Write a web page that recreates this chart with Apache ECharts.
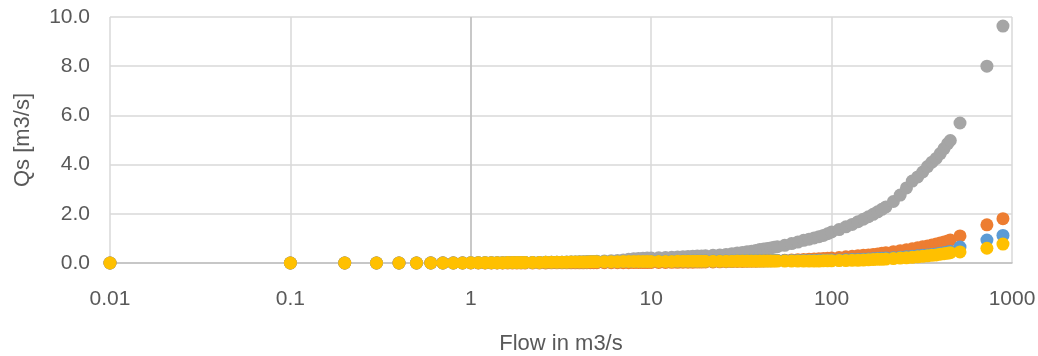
<!DOCTYPE html>
<html>
<head>
<meta charset="utf-8">
<script src="https://cdn.jsdelivr.net/npm/echarts@6/dist/echarts.min.js"></script>
<style>
html,body{margin:0;padding:0;background:#fff;}
#chart{width:1038px;height:356px;}
</style>
</head>
<body>
<div id="chart"></div>
<script>
// Flow values (m3/s)
const flows = [
  0.01,0.1,0.2,0.3,0.4,0.5,0.6,0.7,0.8,0.9,1.0,
  1.1,1.2,1.3,1.4,1.5,1.6,1.7,1.8,1.9,2.0,
  2.2,2.4,2.6,2.8,3.0,3.2,3.4,3.6,3.8,4.0,4.2,4.4,4.6,4.8,5.0,
  5.5,6,6.5,7,7.5,8,8.5,9,9.5,10,
  11,12,13,14,15,16,17,18,19,20,
  22,24,26,28,30,32,34,36,38,40,42,44,46,48,50,
  55,60,65,70,75,80,85,90,95,100,
  110,120,130,140,150,160,170,180,190,200,
  220,240,260,280,300,320,340,360,380,400,420,
  440,455,515,726,891
];
const qsGray = [
  0,0.001,0.002,0.003,0.004,0.005,0.006,0.007,0.008,0.009,0.01,
  0.011,0.012,0.013,0.014,0.015,0.016,0.017,0.018,0.019,0.02,
  0.022,0.024,0.026,0.028,0.03,0.033,0.036,0.04,0.044,0.048,0.052,0.056,0.06,0.065,0.07,
  0.08,0.09,0.1,0.12,0.15,0.17,0.18,0.19,0.2,0.2,
  0.21,0.22,0.23,0.24,0.25,0.26,0.27,0.28,0.28,0.29,
  0.31,0.33,0.35,0.38,0.41,0.43,0.46,0.48,0.51,0.55,0.57,0.59,0.61,0.64,0.66,
  0.72,0.79,0.85,0.92,0.97,1.02,1.07,1.12,1.19,1.26,
  1.36,1.47,1.57,1.68,1.78,1.88,1.98,2.08,2.18,2.28,
  2.5,2.76,3.05,3.33,3.5,3.7,3.92,4.1,4.25,4.45,4.65,
  4.85,4.98,5.69,8.0,9.63
];
const qsOrange = [
  0,0,0,0.001,0.001,0.001,0.001,0.001,0.002,0.002,0.002,
  0.002,0.002,0.003,0.003,0.003,0.003,0.003,0.004,0.004,0.004,
  0.004,0.005,0.005,0.006,0.006,0.006,0.007,0.007,0.008,0.008,0.008,0.009,0.009,0.01,0.01,
  0.011,0.012,0.013,0.014,0.015,0.016,0.017,0.018,0.019,0.02,
  0.022,0.024,0.026,0.028,0.03,0.032,0.034,0.036,0.038,0.04,
  0.044,0.048,0.052,0.056,0.06,0.064,0.068,0.072,0.076,0.08,0.084,0.088,0.092,0.096,0.1,
  0.11,0.12,0.13,0.14,0.15,0.16,0.17,0.18,0.19,0.2,
  0.22,0.25,0.27,0.29,0.31,0.33,0.35,0.37,0.4,0.42,
  0.46,0.5,0.54,0.58,0.62,0.66,0.69,0.73,0.77,0.81,0.85,
  0.89,0.93,1.1,1.55,1.8
];
const qsBlue = [
  0,0,0,0,0,0,0,0,0,0,0.01,
  0.01,0.01,0.01,0.01,0.01,0.02,0.02,0.02,0.02,0.02,
  0.02,0.02,0.03,0.03,0.03,0.03,0.03,0.04,0.04,0.04,0.04,0.04,0.05,0.05,0.05,
  0.05,0.05,0.05,0.06,0.06,0.06,0.06,0.06,0.06,0.07,
  0.07,0.07,0.07,0.07,0.08,0.08,0.08,0.08,0.08,0.08,
  0.08,0.08,0.08,0.08,0.09,0.09,0.09,0.09,0.09,0.09,0.09,0.09,0.09,0.1,0.1,
  0.1,0.1,0.1,0.1,0.1,0.1,0.11,0.11,0.11,0.12,
  0.12,0.13,0.14,0.14,0.15,0.16,0.17,0.18,0.19,0.2,
  0.21,0.23,0.25,0.27,0.29,0.31,0.33,0.35,0.37,0.4,0.42,
  0.45,0.47,0.65,0.93,1.12
];
const qsYellow = [
  0,0,0,0,0,0,0,0,0,0,0.01,
  0.01,0.01,0.01,0.01,0.01,0.02,0.02,0.02,0.02,0.02,
  0.02,0.02,0.03,0.03,0.03,0.03,0.03,0.04,0.04,0.04,0.04,0.04,0.05,0.05,0.05,
  0.05,0.05,0.05,0.06,0.06,0.06,0.06,0.06,0.06,0.06,
  0.06,0.06,0.06,0.07,0.07,0.07,0.07,0.07,0.07,0.07,
  0.07,0.07,0.07,0.07,0.08,0.08,0.08,0.08,0.08,0.08,0.08,0.08,0.08,0.08,0.08,
  0.08,0.08,0.08,0.08,0.08,0.08,0.08,0.09,0.09,0.09,
  0.1,0.1,0.11,0.11,0.12,0.13,0.14,0.15,0.15,0.16,
  0.18,0.2,0.21,0.23,0.25,0.27,0.29,0.31,0.33,0.36,0.38,
  0.4,0.42,0.45,0.6,0.77
];
const xTicks = [0.01, 0.1, 1, 10, 100, 1000];
const yMin = 0, yMax = 10, yStep = 2;
const xTitle = 'Flow in m3/s';
const yTitle = 'Qs [m3/s]';

const seriesDefs = [
  {name: 'gray', values: qsGray, color: '#a5a5a5'},
  {name: 'orange', values: qsOrange, color: '#ed7d31'},
  {name: 'blue', values: qsBlue, color: '#5b9bd5'},
  {name: 'yellow', values: qsYellow, color: '#ffc000'}
];

const font = "'Liberation Sans', Arial, sans-serif";
const textColor = '#595959';

const chart = echarts.init(document.getElementById('chart'), null, {renderer: 'canvas'});
const series = seriesDefs.map((s, idx) => ({
  name: s.name,
  type: 'scatter',
  symbol: 'circle',
  symbolSize: 13,
  z: 3 + idx,
  itemStyle: {color: s.color, opacity: 1},
  data: flows.map((f, i) => [f, s.values[i]]),
  markLine: idx === 0 ? {
    silent: true,
    symbol: 'none',
    label: {show: false},
    lineStyle: {color: '#bfbfbf', width: 1.5, type: 'solid'},
    data: [{xAxis: xTicks[2]}]
  } : undefined
}));

chart.setOption({
  animation: false,
  backgroundColor: '#ffffff',
  grid: {left: 110, right: 26, top: 17, bottom: 93, containLabel: false, outerBoundsMode: 'none'},
  xAxis: {
    type: 'log',
    logBase: 10,
    min: xTicks[0],
    max: xTicks[xTicks.length - 1],
    name: xTitle,
    nameLocation: 'middle',
    nameGap: 70,
    nameTextStyle: {color: textColor, fontSize: 22, fontFamily: font},
    axisLine: {show: true, lineStyle: {color: '#bfbfbf', width: 1.5}},
    axisTick: {show: false},
    axisLabel: {
      color: textColor, fontSize: 21, fontFamily: font, margin: 26,
      formatter: v => String(Number(Number(v).toPrecision(6)))
    },
    splitLine: {show: true, lineStyle: {color: '#d9d9d9', width: 1.5}},
    minorTick: {show: false},
    minorSplitLine: {show: false}
  },
  yAxis: {
    type: 'value',
    min: yMin,
    max: yMax,
    interval: yStep,
    name: yTitle,
    nameLocation: 'middle',
    nameGap: 76,
    nameRotate: 90,
    nameTextStyle: {color: textColor, fontSize: 22, fontFamily: font},
    axisLine: {show: false},
    axisTick: {show: false},
    axisLabel: {
      color: textColor, fontSize: 21, fontFamily: font, margin: 20,
      formatter: v => v.toFixed(1)
    },
    splitLine: {show: true, lineStyle: {color: '#d9d9d9', width: 1.5}}
  },
  series: series
});
</script>
</body>
</html>
